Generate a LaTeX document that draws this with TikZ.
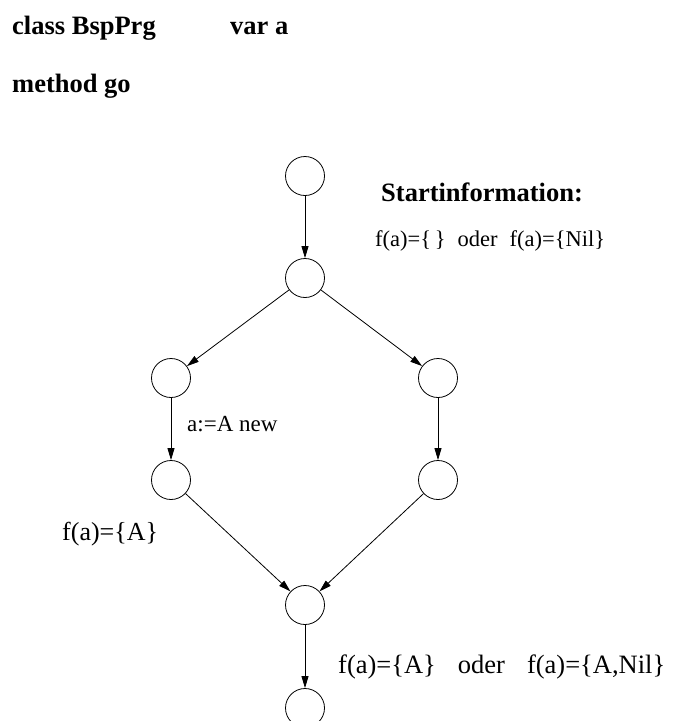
\documentclass[tikz,border=0pt]{standalone}
\usepackage{fontspec}
\setmainfont{Liberation Serif}
\usetikzlibrary{arrows.meta}
\begin{document}
\begin{tikzpicture}[x=1pt,y=-1pt,
  state/.style={circle,draw,line width=0.8pt,minimum size=39pt,inner sep=0pt},
  flow/.style={line width=0.8pt,-{Triangle[length=12pt,width=7pt]}},
  head/.style={anchor=base west,inner sep=0pt,font=\bfseries\fontsize{26.5}{30}\selectfont},
  info/.style={anchor=base west,inner sep=0pt,font=\fontsize{26}{30}\selectfont}]
\useasboundingbox (0,0) rectangle (675,721);

% header lines
\node[head] (cls) at (12,34) {class BspPrg};
\node[head] (var) at (230,34) {var a};
\node[head] (mth) at (12,92) {method go};

% control flow graph of method go
\node[state] (s1) at (305,176) {};
\node[state] (s2) at (305,278) {};
\node[state] (s3) at (171,378) {};
\node[state] (s4) at (438,378) {};
\node[state] (s5) at (171,480) {};
\node[state] (s6) at (438,480) {};
\node[state] (s7) at (305,605) {};
\node[state] (s8) at (305,708) {};

\draw[flow] (s1) -- (s2);
\draw[flow] (s2) -- (s3);
\draw[flow] (s2) -- (s4);
\draw[flow] (s3) -- (s5);
\draw[flow] (s4) -- (s6);
\draw[flow] (s5) -- (s7);
\draw[flow] (s6) -- (s7);
\draw[flow] (s7) -- (s8);

% annotations
\node[head] (start) at (381,201) {Startinformation:};
\node[info,font=\fontsize{22.5}{26}\selectfont] (fin) at (375,246)
  {f(a)=\{\,\}\hspace{12pt}oder\hspace{12pt}f(a)=\{Nil\}};
\node[info,font=\fontsize{23}{27}\selectfont] (asg) at (187,431) {a:=A new};
\node[info] (fa) at (62,540) {f(a)=\{A\}};
\node[info,font=\fontsize{26.5}{30}\selectfont] (fout) at (338,673)
  {f(a)=\{A\}\hspace{22pt}oder\hspace{22pt}f(a)=\{A,Nil\}};
\end{tikzpicture}
\end{document}
